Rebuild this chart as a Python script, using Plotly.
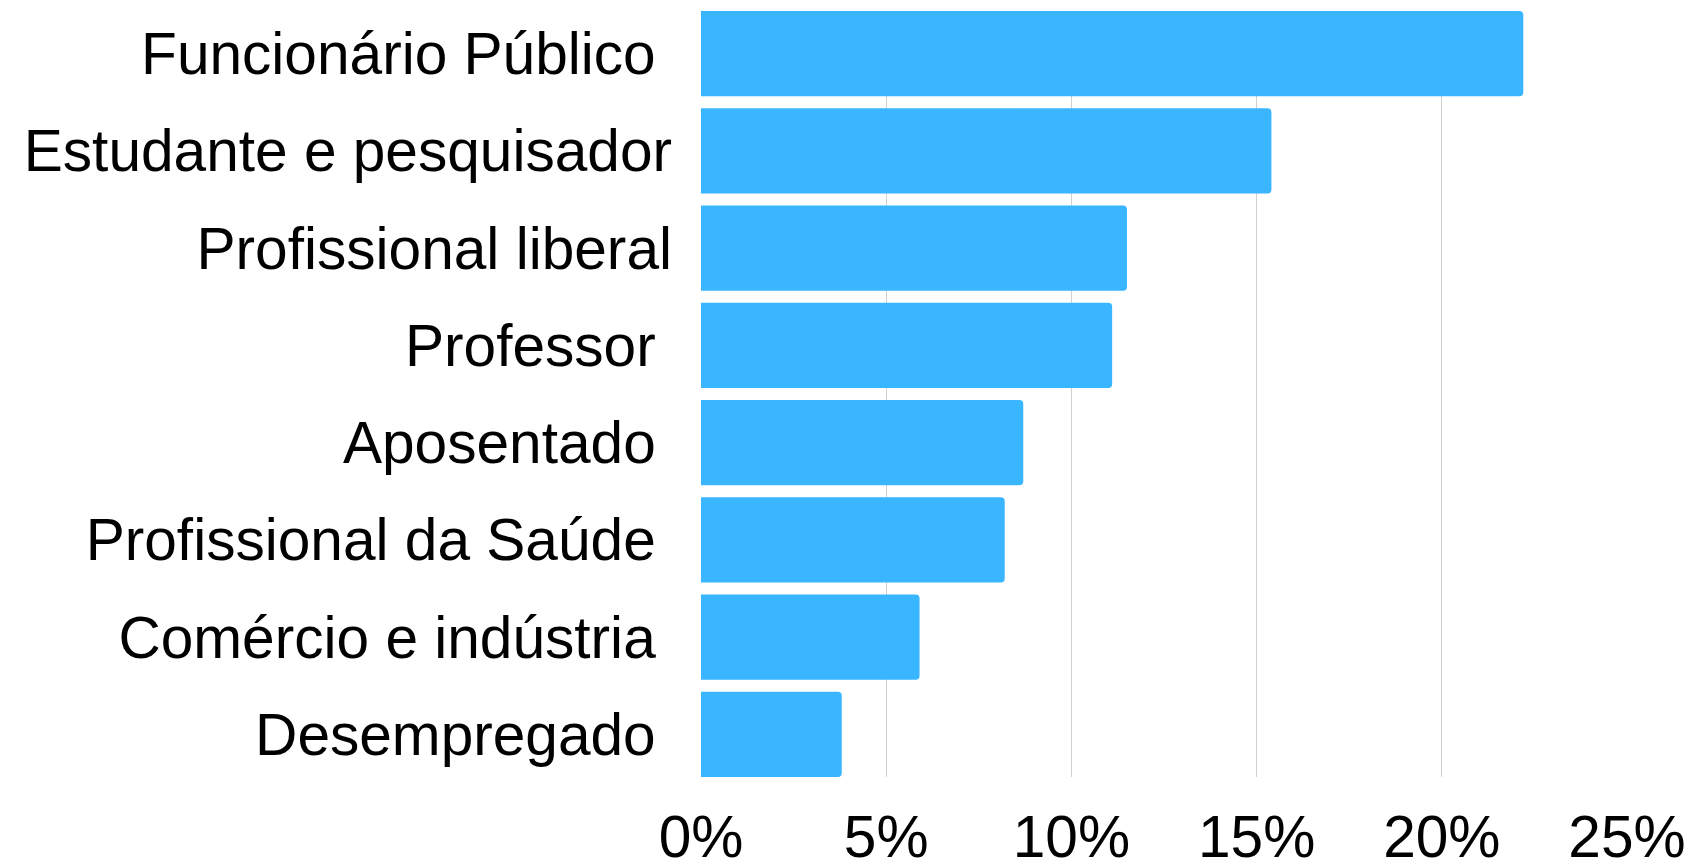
import plotly.graph_objects as go

categories = ["Funcionário Público\u00a0", "Estudante e pesquisador", "Profissional liberal",
              "Professor\u00a0", "Aposentado\u00a0", "Profissional da Saúde\u00a0",
              "Comércio e indústria\u00a0", "Desempregado\u00a0"]
values = [22.2, 15.4, 11.5, 11.1, 8.7, 8.2, 5.9, 3.8]
tick_vals = [0, 5, 10, 15, 20, 25]
tick_text = ["0%", "5%", "10%", "15%", "20%", "25%"]

gap = 0.122
fig = go.Figure(go.Bar(
    x=values, y=categories, orientation="h",
    marker=dict(color="#39B6FF", line=dict(width=0)),
    hoverinfo="skip",
))
n = len(categories)
fig.update_layout(
    width=1694, height=866,
    margin=dict(l=701, r=67, t=11, b=89, autoexpand=False),
    paper_bgcolor="white", plot_bgcolor="white",
    bargap=gap, barcornerradius=4,
    font=dict(family="Liberation Sans, Arial, sans-serif", size=58.6, color="black"),
    showlegend=False,
)
fig.update_xaxes(
    range=[0, 25], tickvals=tick_vals, ticktext=tick_text,
    showgrid=True, gridcolor="#d0d0d0", gridwidth=1, automargin=False,
    zeroline=False, showline=False, ticks="", ticklabelstandoff=20,
    tickfont=dict(size=58.6),
)
fig.update_yaxes(
    type="category", categoryorder="array", categoryarray=categories,
    range=[n - 0.5 - gap / 2, -0.5 + gap / 2], automargin=False,
    showgrid=False, zeroline=False, showline=False, ticks="",
    ticklabelstandoff=28, tickfont=dict(size=58.6),
)
fig.write_html("out.html", config={"displayModeBar": False},
               post_script="document.body.style.margin='0';document.body.style.overflow='hidden';")
